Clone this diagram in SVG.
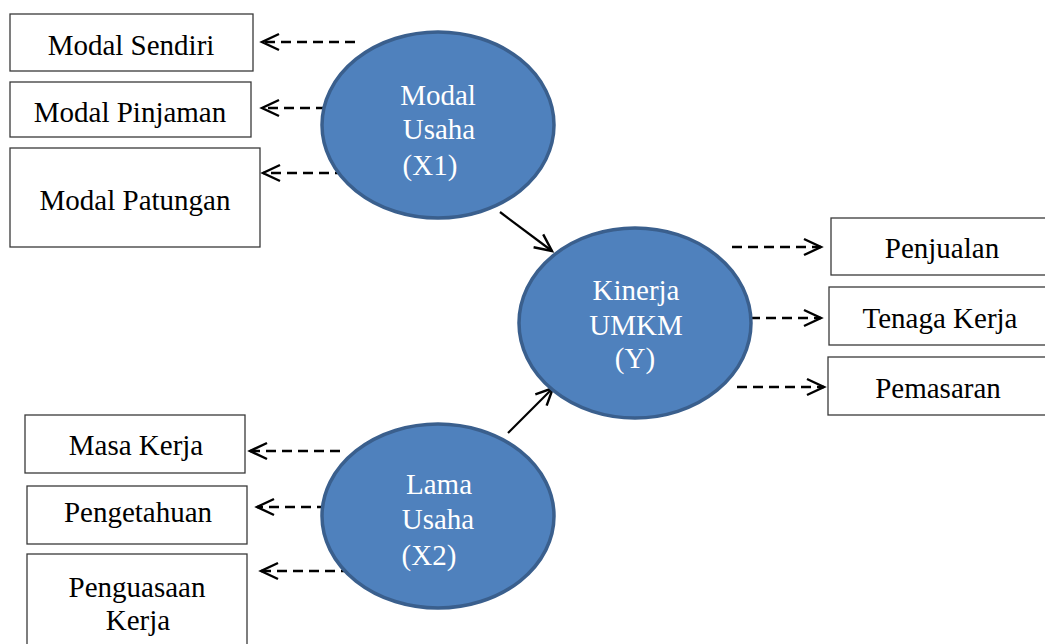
<svg xmlns="http://www.w3.org/2000/svg" width="1045" height="644" viewBox="0 0 1045 644">
<defs>
<style>
.box{fill:#fff;stroke:#3a3a3a;stroke-width:1.3}
.lbl{font-family:"Liberation Serif","Times New Roman",serif;font-size:29px;fill:#000;text-anchor:middle}
.ell{fill:#4F81BD;stroke:#3A5F8D;stroke-width:3.5}
.etxt{font-family:"Liberation Serif","Times New Roman",serif;font-size:29px;fill:#fff;text-anchor:middle}
.dash{fill:none;stroke:#000;stroke-width:2.4;stroke-dasharray:10 6}
.solid{fill:none;stroke:#000;stroke-width:2.2}
</style>
<marker id="arr" markerUnits="userSpaceOnUse" markerWidth="22" markerHeight="22" viewBox="0 0 22 22" refX="18" refY="11" orient="auto">
<path d="M1,3 L18,11 L1,19" fill="none" stroke="#000" stroke-width="2.4" stroke-dasharray="none"/>
</marker>
</defs>
<g id="connectors">
<line class="dash" x1="355" y1="42" x2="262" y2="42" marker-end="url(#arr)"/>
<line class="dash" x1="326" y1="108" x2="262" y2="108" marker-end="url(#arr)"/>
<line class="dash" x1="345" y1="173" x2="263" y2="173" marker-end="url(#arr)"/>
<line class="dash" x1="340" y1="451" x2="250" y2="451" marker-end="url(#arr)"/>
<line class="dash" x1="327" y1="507" x2="257" y2="507" marker-end="url(#arr)"/>
<line class="dash" x1="351" y1="571" x2="261" y2="571" marker-end="url(#arr)"/>
<line class="dash" x1="732" y1="247" x2="821" y2="247" marker-end="url(#arr)"/>
<line class="dash" x1="750" y1="318" x2="821" y2="318" marker-end="url(#arr)"/>
<line class="dash" x1="737" y1="387" x2="824" y2="387" marker-end="url(#arr)"/>
<line class="solid" x1="500" y1="212" x2="552" y2="251" marker-end="url(#arr)"/>
<line class="solid" x1="508" y1="433" x2="553" y2="388" marker-end="url(#arr)"/>
</g>
<g id="modal-sendiri"><rect class="box" x="10" y="14" width="243" height="57"/><text class="lbl" x="131" y="55">Modal Sendiri</text></g>
<g id="modal-pinjaman"><rect class="box" x="10" y="82" width="241" height="55"/><text class="lbl" x="130" y="122">Modal Pinjaman</text></g>
<g id="modal-patungan"><rect class="box" x="10" y="148" width="250" height="99"/><text class="lbl" x="135" y="210">Modal Patungan</text></g>
<g id="modal-usaha"><ellipse class="ell" cx="438" cy="125" rx="116" ry="93"/><text class="etxt" x="438" y="105">Modal</text><text class="etxt" x="439" y="139">Usaha</text><text class="etxt" x="430" y="175">(X1)</text></g>
<g id="kinerja-umkm"><ellipse class="ell" cx="635" cy="323" rx="116" ry="95"/><text class="etxt" x="636" y="300">Kinerja</text><text class="etxt" x="636" y="335">UMKM</text><text class="etxt" x="635" y="368">(Y)</text></g>
<g id="lama-usaha"><ellipse class="ell" cx="438" cy="516" rx="116" ry="92"/><text class="etxt" x="439" y="494">Lama</text><text class="etxt" x="438" y="529">Usaha</text><text class="etxt" x="429" y="565">(X2)</text></g>
<g id="penjualan"><rect class="box" x="831" y="218" width="220" height="57"/><text class="lbl" x="942" y="258">Penjualan</text></g>
<g id="tenaga-kerja"><rect class="box" x="829" y="287" width="222" height="58"/><text class="lbl" x="940" y="328">Tenaga Kerja</text></g>
<g id="pemasaran"><rect class="box" x="828" y="357" width="223" height="58"/><text class="lbl" x="938" y="398">Pemasaran</text></g>
<g id="masa-kerja"><rect class="box" x="25" y="415" width="220" height="58"/><text class="lbl" x="136" y="455">Masa Kerja</text></g>
<g id="pengetahuan"><rect class="box" x="27" y="486" width="220" height="58"/><text class="lbl" x="138" y="522">Pengetahuan</text></g>
<g id="penguasaan-kerja"><rect class="box" x="27" y="554" width="220" height="100"/><text class="lbl" x="137" y="597">Penguasaan</text><text class="lbl" x="138" y="630">Kerja</text></g>
</svg>
